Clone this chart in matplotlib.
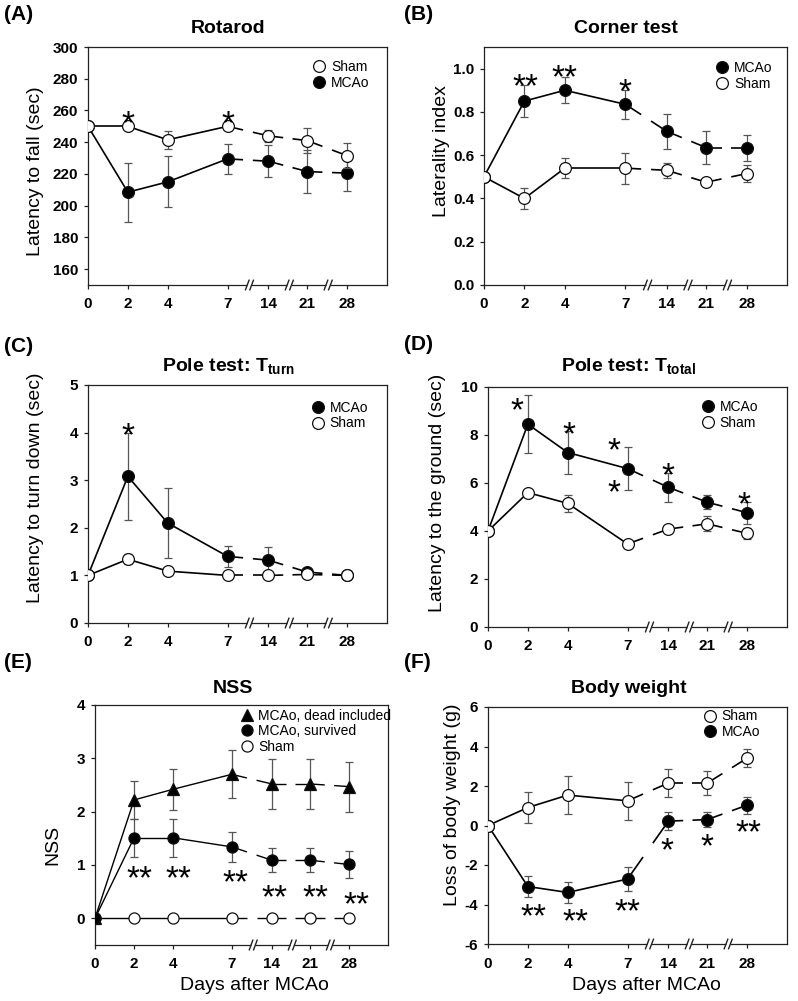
import numpy as np
import matplotlib
matplotlib.use('Agg')
import matplotlib.pyplot as plt
from matplotlib.lines import Line2D
from matplotlib.transforms import offset_copy, blended_transform_factory

plt.rcParams['font.family'] = ['Liberation Sans', 'DejaVu Sans']
plt.rcParams['mathtext.fontset'] = 'custom'
plt.rcParams['mathtext.rm'] = 'Liberation Sans'
plt.rcParams['mathtext.bf'] = 'Liberation Sans:bold'

# ---------------- data ----------------
days = [0, 2, 4, 7, 14, 21, 28]
day_labels = ['0', '2', '4', '7', '14', '21', '28']

# (A) Rotarod
rot_sham = [250, 250, 241.5, 250, 244, 241, 231.5]
rot_sham_err = [0, 0, 5.5, 0, 4, 8, 8]
rot_mcao = [250, 208.5, 215, 229.5, 228, 221.5, 220.5]
rot_mcao_err = [0, 18.5, 16, 9.5, 10, 13.5, 11.5]

# (B) Corner test
cor_mcao = [0.5, 0.85, 0.90, 0.835, 0.71, 0.635, 0.635]
cor_mcao_err = [0, 0.075, 0.06, 0.067, 0.08, 0.078, 0.06]
cor_sham = [0.5, 0.40, 0.54, 0.54, 0.53, 0.475, 0.515]
cor_sham_err = [0, 0.048, 0.045, 0.072, 0.035, 0.01, 0.04]

# (C) Pole test T_turn
turn_mcao = [1.0, 3.08, 2.1, 1.4, 1.32, 1.07, 1.0]
turn_mcao_err = [0, 0.91, 0.74, 0.22, 0.28, 0.03, 0]
turn_sham = [1.0, 1.34, 1.09, 1.0, 1.0, 1.02, 1.0]
turn_sham_err = [0, 0.1, 0.03, 0.02, 0.02, 0.02, 0.02]

# (D) Pole test T_total
tot_mcao = [4.0, 8.45, 7.27, 6.6, 5.82, 5.2, 4.76]
tot_mcao_err = [0, 1.22, 0.9, 0.9, 0.6, 0.3, 0.45]
tot_sham = [4.0, 5.6, 5.15, 3.46, 4.08, 4.3, 3.9]
tot_sham_err = [0, 0.05, 0.35, 0.05, 0.1, 0.32, 0.22]

# (E) NSS
nss_dead = [0, 2.22, 2.42, 2.70, 2.52, 2.52, 2.47]
nss_dead_err = [0, 0.35, 0.38, 0.45, 0.47, 0.47, 0.47]
nss_surv = [0, 1.51, 1.51, 1.34, 1.09, 1.09, 1.01]
nss_surv_err = [0, 0.36, 0.36, 0.28, 0.23, 0.23, 0.25]
nss_sham = [0, 0, 0, 0, 0, 0, 0]
nss_sham_err = [0, 0, 0, 0, 0, 0, 0]

# (F) Body weight
bw_sham = [0, 0.91, 1.54, 1.25, 2.15, 2.15, 3.41]
bw_sham_err = [0, 0.8, 0.97, 0.97, 0.7, 0.6, 0.45]
bw_mcao = [0, -3.09, -3.39, -2.71, 0.22, 0.3, 1.03]
bw_mcao_err = [0, 0.52, 0.52, 0.6, 0.45, 0.4, 0.43]

# ---------------- layout / style ----------------
POS = [0, 2, 4, 7, 9.05, 11.0, 13.0]      # broken time axis positions
BREAKS = [8.1, 10.1, 12.05]
XMAX = 15.0
GAPF = 0.38
ERRC = '#555555'
STAR_FS = 24

fig = plt.figure(figsize=(7.98, 10.01), dpi=100)
H = 1001.0
W = 798.0


def add_ax(l, r, t, b):
    return fig.add_axes([l / W, 1 - b / H, (r - l) / W, (b - t) / H])


def setup(ax, ylim, yticks, ylabels, ylab, ylab_pos, title, title_y):
    ax.set_xlim(0, XMAX)
    ax.set_ylim(*ylim)
    ax.set_xticks(POS)
    ax.set_xticklabels(day_labels)
    ax.set_yticks(yticks)
    ax.set_yticklabels(ylabels)
    for s in ax.spines.values():
        s.set_linewidth(0.9)
        s.set_color('#222222')
    ax.tick_params(axis='x', direction='out', length=3, width=0.9, pad=6,
                   labelsize=11, color='#222222')
    ax.tick_params(axis='y', direction='out', length=3, width=0.9, pad=4,
                   labelsize=11, color='#222222')
    for lab in ax.get_xticklabels() + ax.get_yticklabels():
        lab.set_fontweight('bold')
    ax.text(ylab_pos[0], ylab_pos[1], ylab, transform=ax.transAxes, rotation=90,
            ha='center', va='center', fontsize=14)
    ax.text(0.47, title_y, title, transform=ax.transAxes, ha='center',
            va='baseline', fontsize=14, fontweight='bold')
    # axis break marks
    tr = blended_transform_factory(ax.transData, ax.transAxes)
    for xb in BREAKS:
        ax.plot([xb - 0.1, xb + 0.1], [0, 0], color='white', lw=2.2,
                transform=tr, clip_on=False, zorder=6, solid_capstyle='butt')
        for c in (xb - 0.11, xb + 0.11):
            ax.plot([c - 0.09, c + 0.09], [-0.02, 0.02], color='#222222',
                    lw=1.0, transform=tr, clip_on=False, zorder=7)


def series(ax, vals, errs, marker='o', face='black', z=3, lw=1.2, ms=8.5):
    x = POS
    ax.errorbar(x, vals, yerr=errs, fmt='none', ecolor=ERRC, elinewidth=0.9,
                capsize=3, capthick=0.9, zorder=z)
    for i in range(len(x) - 1):
        x0, x1, y0, y1 = x[i], x[i + 1], vals[i], vals[i + 1]
        if i < 3:
            ax.plot([x0, x1], [y0, y1], color='black', lw=lw, zorder=z,
                    solid_capstyle='butt')
        else:
            ax.plot([x0, x0 + GAPF * (x1 - x0)], [y0, y0 + GAPF * (y1 - y0)],
                    color='black', lw=lw, zorder=z, solid_capstyle='butt')
            ax.plot([x1 - GAPF * (x1 - x0), x1], [y1 - GAPF * (y1 - y0), y1],
                    color='black', lw=lw, zorder=z, solid_capstyle='butt')
    ax.plot(x, vals, linestyle='none', marker=marker, ms=ms, mfc=face,
            mec='#111111', mew=0.9, zorder=z + 1)


def star(ax, x, y, s):
    tr = offset_copy(ax.transData, fig=fig, x=0, y=-0.52 * STAR_FS, units='points')
    ax.text(x, y, s, ha='center', va='baseline', fontsize=STAR_FS, transform=tr,
            zorder=8)


def legend(ax, entries, anchor, ms=8.5):
    handles = [Line2D([], [], linestyle='none', marker=m, ms=ms, mfc=f,
                      mec='#111111', mew=0.9) for (m, f, _) in entries]
    ax.legend(handles, [e[2] for e in entries], loc='upper left',
              bbox_to_anchor=anchor, frameon=False, fontsize=10,
              handlelength=1.0, handletextpad=0.35, labelspacing=0.12,
              borderpad=0, borderaxespad=0)


def panel_label(x, y, s):
    fig.text(x / W, 1 - y / H, s, ha='left', va='center', fontsize=15,
             fontweight='bold')


# ---------------- (A) ----------------
ax = add_ax(88, 387, 47, 285)
setup(ax, (150, 300), list(range(160, 301, 20)),
      [str(v) for v in range(160, 301, 20)], 'Latency to fall (sec)',
      (-0.177, 0.48), 'Rotarod', 1.058)
series(ax, rot_mcao, rot_mcao_err, face='black', z=3)
series(ax, rot_sham, rot_sham_err, face='white', z=5)
legend(ax, [('o', 'white', 'Sham'), ('o', 'black', 'MCAo')], (0.75, 0.945))
star(ax, POS[1], 256.5, '*')
star(ax, POS[3], 256.5, '*')
panel_label(4, 14, '(A)')

# ---------------- (B) ----------------
ax = add_ax(484, 787, 47, 285)
setup(ax, (0, 1.1), [0, 0.2, 0.4, 0.6, 0.8, 1.0],
      ['0.0', '0.2', '0.4', '0.6', '0.8', '1.0'], 'Laterality index',
      (-0.139, 0.563), 'Corner test', 1.058)
series(ax, cor_mcao, cor_mcao_err, face='black', z=3)
series(ax, cor_sham, cor_sham_err, face='white', z=5)
legend(ax, [('o', 'black', 'MCAo'), ('o', 'white', 'Sham')], (0.764, 0.94))
star(ax, POS[1] + 0.05, 0.954, '**')
star(ax, POS[2], 0.992, '**')
star(ax, POS[3], 0.93, '*')
panel_label(404, 15, '(B)')

# ---------------- (C) ----------------
ax = add_ax(88, 387, 385, 623)
setup(ax, (0, 5), [0, 1, 2, 3, 4, 5], ['0', '1', '2', '3', '4', '5'],
      'Latency to turn down (sec)', (-0.174, 0.567),
      r'Pole test: T$_{\mathbf{turn}}$', 1.056)
series(ax, turn_mcao, turn_mcao_err, face='black', z=3)
series(ax, turn_sham, turn_sham_err, face='white', z=5)
legend(ax, [('o', 'black', 'MCAo'), ('o', 'white', 'Sham')], (0.746, 0.934))
star(ax, POS[1], 4.09, '*')
panel_label(4, 346, '(C)')

# ---------------- (D) ----------------
ax = add_ax(488, 787, 387, 627)
setup(ax, (0, 10), [0, 2, 4, 6, 8, 10], ['0', '2', '4', '6', '8', '10'],
      'Latency to the ground (sec)', (-0.169, 0.56),
      r'Pole test: T$_{\mathbf{total}}$', 1.064)
series(ax, tot_mcao, tot_mcao_err, face='black', z=3)
series(ax, tot_sham, tot_sham_err, face='white', z=5)
legend(ax, [('o', 'black', 'MCAo'), ('o', 'white', 'Sham')], (0.712, 0.945))
star(ax, 1.46, 9.35, '*')
star(ax, POS[2] + 0.04, 8.35, '*')
star(ax, 6.3, 7.68, '*')
star(ax, 6.3, 5.92, '*')
star(ax, POS[4], 6.61, '*')
star(ax, POS[6] - 0.15, 5.4, '*')
panel_label(404, 345, '(D)')

# ---------------- (E) ----------------
ax = add_ax(95, 388, 705, 945)
setup(ax, (-0.5, 4), [0, 1, 2, 3, 4], ['0', '1', '2', '3', '4'], 'NSS',
      (-0.143, 0.417), 'NSS', 1.049)
series(ax, nss_sham, nss_sham_err, face='white', z=3, lw=1.0, ms=8)
series(ax, nss_dead, nss_dead_err, marker='^', face='black', z=5, lw=1.0, ms=8)
series(ax, nss_surv, nss_surv_err, face='black', z=7, lw=1.0, ms=8)
legend(ax, [('^', 'black', 'MCAo, dead included'), ('o', 'black', 'MCAo, survived'),
            ('o', 'white', 'Sham')], (0.494, 0.985), ms=8)
for (xx, yy) in [(2.26, 0.89), (4.25, 0.89), (7.2, 0.81), (9.2, 0.53),
                 (11.3, 0.53), (13.4, 0.41)]:
    star(ax, xx, yy, '**')
ax.text(0.543, -0.167, 'Days after MCAo', transform=ax.transAxes, ha='center',
        va='center', fontsize=14)
panel_label(4, 663, '(E)')

# ---------------- (F) ----------------
ax = add_ax(488, 787, 707, 944)
setup(ax, (-6, 6), [-6, -4, -2, 0, 2, 4, 6],
      ['-6', '-4', '-2', '0', '2', '4', '6'], 'Loss of body weight (g)',
      (-0.12, 0.587), 'Body weight', 1.058)
series(ax, bw_mcao, bw_mcao_err, face='black', z=3)
series(ax, bw_sham, bw_sham_err, face='white', z=5)
legend(ax, [('o', 'white', 'Sham'), ('o', 'black', 'MCAo')], (0.719, 0.99))
for (xx, yy, s) in [(2.3, -4.23, '**'), (4.37, -4.49, '**'), (7.0, -3.98, '**'),
                    (9.0, -0.89, '*'), (11.0, -0.66, '*'), (13.05, 0.02, '**')]:
    star(ax, xx, yy, s)
ax.text(0.53, -0.173, 'Days after MCAo', transform=ax.transAxes, ha='center',
        va='center', fontsize=14)
panel_label(404, 663, '(F)')

fig.savefig('out.png', dpi=100)
